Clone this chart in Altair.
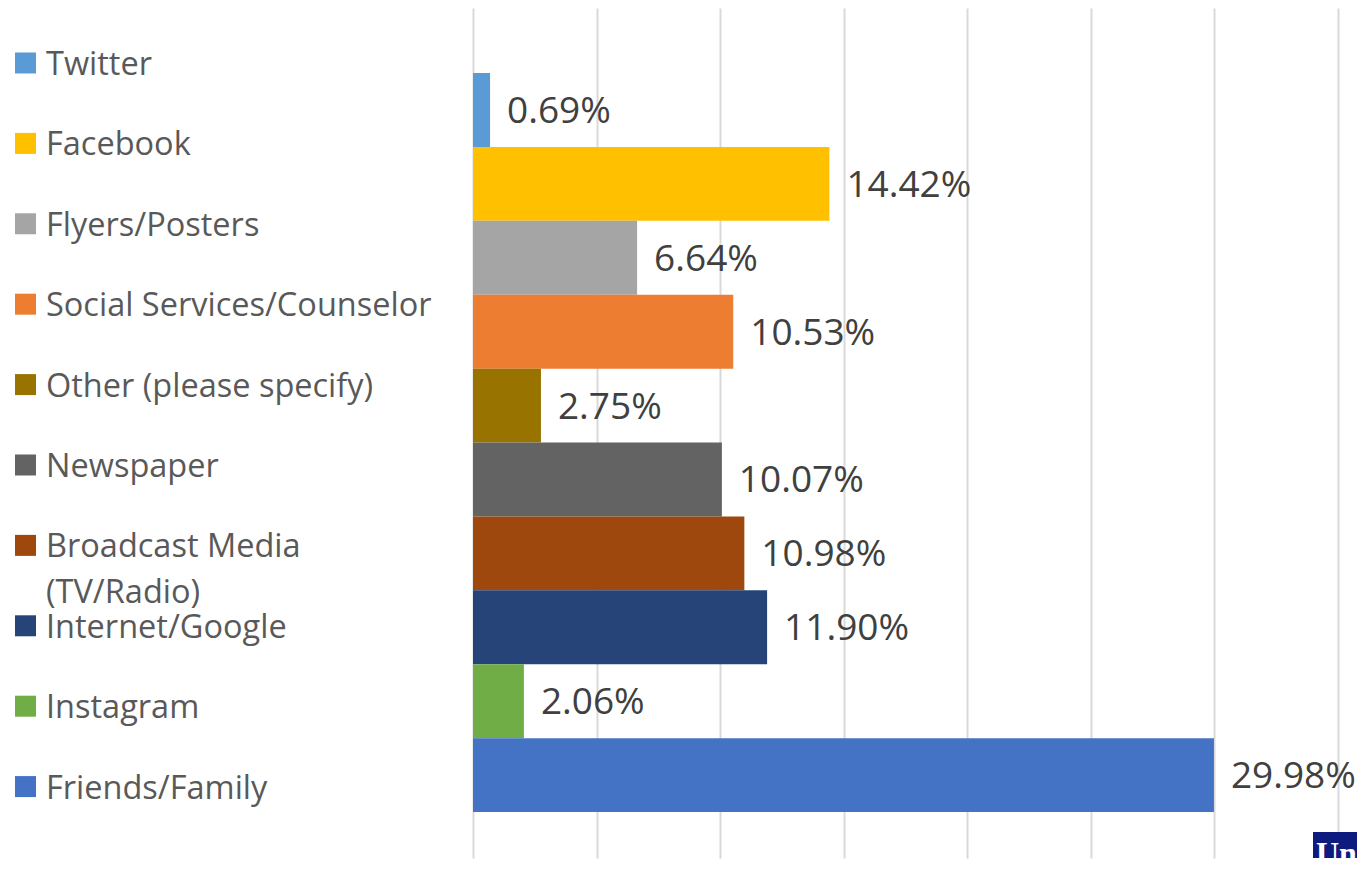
import altair as alt
import pandas as pd

categories = ["Twitter", "Facebook", "Flyers/Posters", "Social Services/Counselor",
              "Other (please specify)", "Newspaper", "Broadcast Media (TV/Radio)",
              "Internet/Google", "Instagram", "Friends/Family"]
legend_labels = ["Twitter", "Facebook", "Flyers/Posters", "Social Services/Counselor",
                 "Other (please specify)", "Newspaper", "Broadcast Media\n(TV/Radio)",
                 "Internet/Google", "Instagram", "Friends/Family"]
values = [0.69, 14.42, 6.64, 10.53, 2.75, 10.07, 10.98, 11.90, 2.06, 29.98]
colors = ["#5B9BD5", "#FFC000", "#A5A5A5", "#ED7D31", "#997300",
          "#636363", "#9E480E", "#264478", "#70AD47", "#4472C4"]
tick_values = [0, 5, 10, 15, 20, 25, 30, 35]

df = pd.DataFrame({
    "category": categories,
    "legend": legend_labels,
    "value": values,
    "color": colors,
    "label": [f"{v:.2f}%" for v in values],
})

FONT = "Open Sans"

# ---------- left panel: legend ----------
leg_base = alt.Chart(df).encode(
    y=alt.Y("category:N", sort=categories, axis=None,
            scale=alt.Scale(type="point", padding=0.786, align=0.435))
)
leg_sq = leg_base.mark_square(size=441, opacity=1).encode(
    x=alt.value(17.5),
    color=alt.Color("color:N", scale=None),
)
leg_txt = leg_base.mark_text(
    align="left", baseline="alphabetic", dy=12, fontSize=32.5, font=FONT,
    color="#595959", lineBreak="\n", lineHeight=46,
).encode(x=alt.value(38), text="legend:N")
left = alt.layer(leg_sq, leg_txt).properties(width=465, height=850)

# ---------- right panel: bars ----------
ybar = alt.Y("category:N", sort=categories, axis=None,
             scale=alt.Scale(paddingInner=0, paddingOuter=0.751, align=0.586))
xbar = alt.X("value:Q", scale=alt.Scale(domain=[0, 35], nice=False, zero=True),
             axis=alt.Axis(values=tick_values, labels=False, ticks=False, domain=False,
                           grid=True, gridColor="#d9d9d9", gridWidth=2, title=None))
bars = alt.Chart(df).mark_bar().encode(
    y=ybar, x=xbar, color=alt.Color("color:N", scale=None)
)
vals = alt.Chart(df).mark_text(
    align="left", baseline="middle", dx=17, dy=2, fontSize=37, font=FONT, color="#404040"
).encode(y=ybar, x=alt.X("value:Q"), text="label:N")

logo_df = pd.DataFrame({"t": ["Un"]})
logo_box = alt.Chart(logo_df).mark_rect(color="#0d1b7e").encode(
    x=alt.value(840), x2=alt.value(884), y=alt.value(824), y2=alt.value(850)
)
logo_txt = alt.Chart(logo_df).mark_text(
    font="Liberation Serif", fontWeight="bold", fontSize=32, color="white",
    align="left", baseline="alphabetic"
).encode(x=alt.value(843), y=alt.value(856), text="t:N")

right = alt.layer(bars, vals, logo_box, logo_txt).properties(width=865, height=850)

chart = alt.hconcat(left, right, spacing=0).resolve_scale(y="independent").properties(
    padding=0
).configure_view(stroke=None)

chart.save("out.html", embed_options={"renderer": "svg", "actions": False})
